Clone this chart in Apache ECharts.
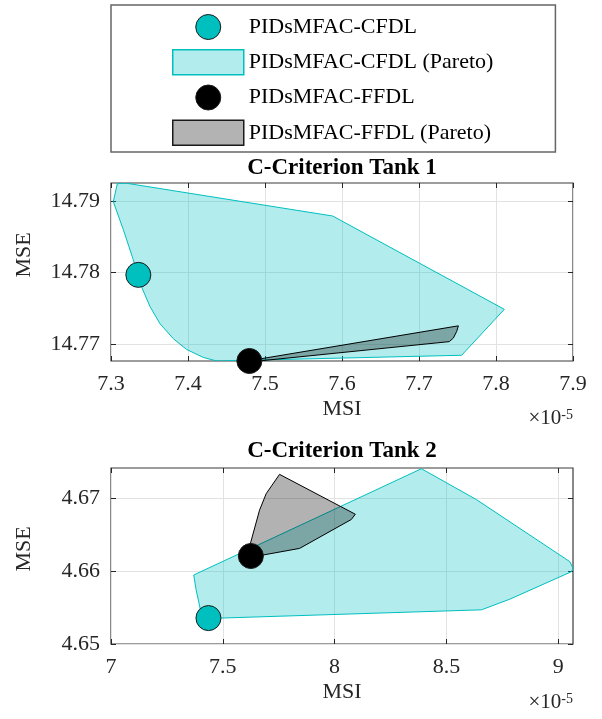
<!DOCTYPE html>
<html>
<head>
<meta charset="utf-8">
<script src="https://cdn.jsdelivr.net/npm/echarts@6/dist/echarts.min.js"></script>
<style>
html,body{margin:0;padding:0;background:#fff;}
#chart{width:602px;height:719px;}
</style>
</head>
<body>
<div id="chart"></div>
<script>
// ---------- Data (MSI in units of 1e-5, MSE) ----------
const seriesNames = ['PIDsMFAC-CFDL', 'PIDsMFAC-CFDL (Pareto)', 'PIDsMFAC-FFDL', 'PIDsMFAC-FFDL (Pareto)'];
const titles = ['C-Criterion Tank 1', 'C-Criterion Tank 2'];

// Tank 1
const t1CfdlPoint = [7.3355, 14.7797];
const t1FfdlPoint = [7.4797, 14.7677];
const t1CfdlParetoX = [7.3082, 7.3182, 7.5879, 7.8108, 7.7554, 7.4372, 7.4199, 7.3983, 7.3810, 7.3636, 7.3506, 7.3398, 7.3290, 7.3160, 7.3030];
const t1CfdlParetoY = [14.7924, 14.7925, 14.7879, 14.7749, 14.7685, 14.7677, 14.7682, 14.7693, 14.7708, 14.7729, 14.7753, 14.7780, 14.7818, 14.7860, 14.7899];
const t1FfdlParetoX = [7.4827, 7.7511, 7.7489, 7.7446, 7.7394, 7.4827];
const t1FfdlParetoY = [14.7678, 14.7726, 14.7718, 14.7709, 14.7704, 14.7676];

// Tank 2
const t2CfdlPoint = [7.4358, 4.65355];
const t2FfdlPoint = [7.6254, 4.66205];
const t2CfdlParetoX = [7.3701, 7.3806, 7.4000, 7.4925, 8.6567, 8.7836, 9.0597, 9.0660, 9.0522, 8.6343, 8.3881];
const t2CfdlParetoY = [4.65945, 4.65741, 4.65468, 4.65355, 4.65468, 4.65614, 4.65991, 4.66036, 4.66127, 4.66977, 4.67400];
const t2FfdlParetoX = [7.6194, 7.6642, 7.6940, 7.7537, 8.0925, 8.0746, 7.8433, 7.6791, 7.6284];
const t2FfdlParetoY = [4.66332, 4.66832, 4.67059, 4.67323, 4.66777, 4.66705, 4.66309, 4.66218, 4.66195];

// Axes ranges and ticks
const t1XRange = [7.3, 7.9];
const t1YRange = [14.7677, 14.7925];
const t1XTicks = [7.3, 7.4, 7.5, 7.6, 7.7, 7.8, 7.9];
const t1YTicks = [14.77, 14.78, 14.79];
const t2XRange = [7.0, 9.066];
const t2YRange = [4.65, 4.6741];
const t2XTicks = [7.0, 7.5, 8.0, 8.5, 9.0];
const t2YTicks = [4.65, 4.66, 4.67];
const xAxisLabel = 'MSI';
const yAxisLabel = 'MSE';
const xScaleLabel = '{a|×10}{b|-5}';

// ---------- Styles ----------
const FONT = '"Liberation Serif", "Times New Roman", serif';
const CYAN = '#00bfbf';
const CYAN_FILL = 'rgba(0,191,191,0.3)';
const GREY_FILL = 'rgba(0,0,0,0.3)';
const AXIS_COL = '#262626';
const GRID_COL = '#e2e2e2';

const grids = [
  {left: 111, top: 183, width: 462, height: 178},
  {left: 111, top: 468, width: 462, height: 176}
];

function xFmt(v) { return String(Number(v.toFixed(1))); }
function yFmt(v) { return v.toFixed(2); }

function mainX(gi, range, ticks) {
  return {
    type: 'value', gridIndex: gi, min: range[0], max: range[1], position: 'bottom',
    axisLine: {show: false},
    axisTick: {show: true, inside: true, length: 5, customValues: ticks, lineStyle: {color: AXIS_COL, width: 1}},
    axisLabel: {customValues: ticks, formatter: xFmt, margin: 12, fontSize: 22, fontFamily: FONT, color: AXIS_COL},
    splitLine: {show: true, lineStyle: {color: GRID_COL, width: 1}},
    name: xAxisLabel, nameLocation: 'middle', nameGap: 37,
    nameTextStyle: {fontSize: 22, fontFamily: FONT, color: AXIS_COL}
  };
}
function mirrorX(gi, range, ticks) {
  return {
    type: 'value', gridIndex: gi, min: range[0], max: range[1], position: 'top',
    axisLine: {show: false},
    axisTick: {show: true, inside: true, length: 5, customValues: ticks, lineStyle: {color: AXIS_COL, width: 1}},
    axisLabel: {show: false}, splitLine: {show: false}
  };
}
function mainY(gi, range, ticks, namePadLeft) {
  return {
    type: 'value', gridIndex: gi, min: range[0], max: range[1], position: 'left',
    axisLine: {show: false},
    axisTick: {show: true, inside: true, length: 5, customValues: ticks, lineStyle: {color: AXIS_COL, width: 1}},
    axisLabel: {customValues: ticks, formatter: yFmt, margin: 11, fontSize: 22, fontFamily: FONT, color: AXIS_COL},
    splitLine: {show: true, lineStyle: {color: GRID_COL, width: 1}},
    name: yAxisLabel, nameLocation: 'middle', nameGap: 76, nameRotate: 90,
    nameTextStyle: {fontSize: 22, fontFamily: FONT, color: AXIS_COL, padding: [0, 0, 0, namePadLeft]}
  };
}
function mirrorY(gi, range, ticks) {
  return {
    type: 'value', gridIndex: gi, min: range[0], max: range[1], position: 'right',
    axisLine: {show: false},
    axisTick: {show: true, inside: true, length: 5, customValues: ticks, lineStyle: {color: AXIS_COL, width: 1}},
    axisLabel: {show: false}, splitLine: {show: false}
  };
}

function polygonSeries(name, xs, ys, axisIdx, fill, stroke, z) {
  const pts = xs.map((x, i) => [x, ys[i]]);
  return {
    type: 'custom', name: name, xAxisIndex: axisIdx, yAxisIndex: axisIdx,
    clip: true, z: z, silent: true,
    itemStyle: {color: fill, borderColor: stroke, borderWidth: 1},
    data: pts,
    renderItem: function (params, api) {
      if (params.dataIndex !== 0) return null;
      const coords = pts.map(p => api.coord(p));
      return {
        type: 'polygon',
        shape: {points: coords},
        style: {fill: fill, stroke: stroke, lineWidth: 1, lineJoin: 'round'}
      };
    }
  };
}
function pointSeries(name, pt, axisIdx, color) {
  return {
    type: 'scatter', name: name, xAxisIndex: axisIdx, yAxisIndex: axisIdx,
    data: [pt], symbol: 'circle', symbolSize: 25, z: 10, silent: true,
    itemStyle: {color: color, borderColor: '#1a1a1a', borderWidth: 1, opacity: 1}
  };
}

const option = {
  animation: false,
  backgroundColor: '#ffffff',
  title: [
    {text: titles[0], left: 342, top: 157, textAlign: 'center', padding: 0,
     textStyle: {fontFamily: FONT, fontWeight: 'bold', fontSize: 23, color: '#000'}},
    {text: titles[1], left: 342, top: 440, textAlign: 'center', padding: 0,
     textStyle: {fontFamily: FONT, fontWeight: 'bold', fontSize: 23, color: '#000'}}
  ],
  legend: {
    orient: 'vertical', left: 111, top: 5,
    padding: [9, 62, 6, 61],
    itemWidth: 71, itemHeight: 25, itemGap: 9,
    borderColor: '#666', borderWidth: 1.5, backgroundColor: '#fff',
    selectedMode: false,
    textStyle: {fontFamily: FONT, fontSize: 22, color: '#000'},
    data: [
      {name: seriesNames[0], icon: 'circle', itemStyle: {color: CYAN, borderColor: '#1a1a1a', borderWidth: 1}},
      {name: seriesNames[1], icon: 'rect', itemStyle: {color: '#b3ecec', borderColor: CYAN, borderWidth: 1.5}},
      {name: seriesNames[2], icon: 'circle', itemStyle: {color: '#000', borderColor: '#1a1a1a', borderWidth: 1}},
      {name: seriesNames[3], icon: 'rect', itemStyle: {color: '#b3b3b3', borderColor: '#1a1a1a', borderWidth: 1.5}}
    ]
  },
  grid: grids.map(g => Object.assign({show: true, borderColor: '#3a3a3a', borderWidth: 1.2, backgroundColor: 'transparent', containLabel: false}, g)),
  xAxis: [mainX(0, t1XRange, t1XTicks), mainX(1, t2XRange, t2XTicks), mirrorX(0, t1XRange, t1XTicks), mirrorX(1, t2XRange, t2XTicks)],
  yAxis: [mainY(0, t1YRange, t1YTicks, 34), mainY(1, t2YRange, t2YTicks, 14), mirrorY(0, t1YRange, t1YTicks), mirrorY(1, t2YRange, t2YTicks)],
  graphic: [
    {type: 'text', x: 573, y: 408, silent: true,
     style: {text: xScaleLabel, align: 'right', verticalAlign: 'top',
       rich: {a: {fontSize: 21, fontFamily: FONT, fill: AXIS_COL, verticalAlign: 'bottom'},
              b: {fontSize: 14, fontFamily: FONT, fill: AXIS_COL, verticalAlign: 'top'}}}},
    {type: 'text', x: 573, y: 692, silent: true,
     style: {text: xScaleLabel, align: 'right', verticalAlign: 'top',
       rich: {a: {fontSize: 21, fontFamily: FONT, fill: AXIS_COL, verticalAlign: 'bottom'},
              b: {fontSize: 14, fontFamily: FONT, fill: AXIS_COL, verticalAlign: 'top'}}}}
  ],
  series: [
    polygonSeries(seriesNames[1], t1CfdlParetoX, t1CfdlParetoY, 0, CYAN_FILL, CYAN, 2),
    polygonSeries(seriesNames[3], t1FfdlParetoX, t1FfdlParetoY, 0, GREY_FILL, '#000', 3),
    pointSeries(seriesNames[0], t1CfdlPoint, 0, CYAN),
    pointSeries(seriesNames[2], t1FfdlPoint, 0, '#000'),
    polygonSeries(seriesNames[1], t2CfdlParetoX, t2CfdlParetoY, 1, CYAN_FILL, CYAN, 2),
    polygonSeries(seriesNames[3], t2FfdlParetoX, t2FfdlParetoY, 1, GREY_FILL, '#000', 3),
    pointSeries(seriesNames[0], t2CfdlPoint, 1, CYAN),
    pointSeries(seriesNames[2], t2FfdlPoint, 1, '#000')
  ]
};

const chart = echarts.init(document.getElementById('chart'), null, {renderer: 'canvas'});
chart.setOption(option);
</script>
</body>
</html>
